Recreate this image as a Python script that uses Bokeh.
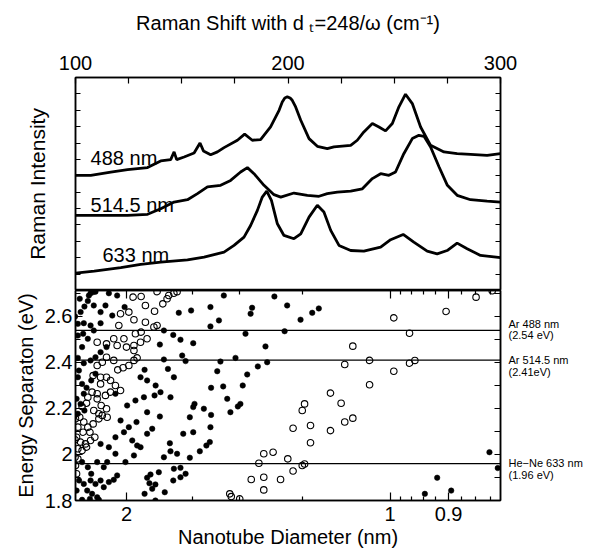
from bokeh.plotting import figure
from bokeh.layouts import column
from bokeh.models import (FixedTicker, LinearAxis, Range1d, Label, Span,
                          CustomJSTickFormatter)
from bokeh.embed import file_html
from bokeh.resources import INLINE

FONT = "Liberation Sans"

# ---------------- Raman spectra (Raman shift in cm^-1, offset intensity) ----
shift_488 = [100.0, 107.2, 116.6, 124.5, 133.9, 140.1, 144.8, 146.4, 147.6, 151.1,
             155.8, 158.6, 160.2, 163.6, 166.8, 169.9, 176.2, 179.6, 183.2, 187.1,
             191.8, 195.8, 197.3, 198.5, 199.7, 201.0, 202.0, 203.6, 206.0, 209.9,
             213.8, 218.5, 221.6, 229.5, 232.6, 235.7, 239.7, 242.8, 245.9, 249.1,
             252.2, 255.3, 258.5, 262.4, 267.1, 273.4, 279.6, 285.9, 293.7, 300.0]
int_488 = [7.03, 7.03, 7.23, 7.38, 7.50, 7.91, 7.99, 8.46, 7.99, 8.15,
           8.39, 9.00, 8.52, 8.29, 8.46, 8.72, 9.17, 9.54, 9.17, 9.21,
           9.98, 11.00, 11.51, 11.75, 11.82, 11.75, 11.61, 11.20, 10.39, 9.27,
           8.80, 8.66, 8.76, 8.86, 9.17, 9.68, 10.19, 9.98, 9.74, 10.19,
           11.21, 11.98, 11.41, 9.98, 8.86, 8.46, 8.35, 8.31, 8.25, 8.35]

shift_514 = [100.0, 108.8, 124.5, 133.9, 140.1, 146.4, 152.7, 157.4, 162.1, 168.3,
             173.0, 177.7, 180.9, 184.0, 188.7, 193.4, 196.6, 202.8, 209.1, 214.6,
             218.5, 223.2, 229.5, 235.0, 239.7, 243.6, 247.5, 250.6, 254.5, 258.5,
             261.6, 264.0, 267.1, 271.1, 275.0, 279.6, 285.9, 293.7, 300.0]
int_514 = [4.58, 4.58, 4.58, 4.65, 4.99, 5.40, 5.54, 5.91, 6.32, 6.42,
           6.72, 7.23, 7.50, 7.13, 6.42, 5.85, 5.70, 5.95, 5.81, 5.75,
           5.91, 6.01, 6.07, 6.21, 6.83, 7.13, 7.03, 7.23, 8.35, 9.27,
           9.47, 9.41, 8.76, 7.54, 6.42, 5.81, 5.54, 5.46, 5.40]

shift_633 = [100.0, 108.8, 121.3, 130.7, 140.1, 152.7, 160.5, 169.9, 174.6, 179.3,
             182.4, 185.6, 187.9, 190.0, 192.2, 195.0, 198.1, 202.8, 206.0, 209.9,
             213.8, 216.9, 220.1, 224.0, 229.5, 235.7, 243.6, 248.3, 254.2, 259.2,
             265.5, 270.2, 274.9, 279.6, 284.3, 290.6, 300.0]
int_633 = [1.06, 1.18, 1.39, 1.59, 1.73, 1.87, 2.04, 2.34, 2.75, 3.26,
           3.97, 4.89, 5.70, 6.07, 5.50, 4.07, 3.36, 3.16, 3.46, 4.48,
           5.20, 4.79, 3.67, 2.75, 2.44, 2.40, 2.65, 3.10, 3.42, 2.95,
           2.40, 2.24, 2.44, 2.89, 2.55, 2.14, 2.00]

spectrum_names = ["488 nm", "514.5 nm", "633 nm"]

# ---------------- Kataura plot (x as Raman-shift equivalent 248/d) ----------
semi_shift = [169.8, 193.6, 199.6, 183.1, 182.4, 163.5, 167.5, 148.6, 154.4, 163.5,
              180.0, 189.4, 198.4, 141.6, 146.0, 155.4, 149.4, 139.7, 141.6, 150.2,
              151.8, 168.2, 175.3, 180.8, 185.8, 190.2, 166.7, 163.8, 169.5, 178.7,
              171.4, 176.4, 177.6, 172.9, 163.8, 160.4, 155.4, 156.0, 153.8, 150.7,
              155.4, 163.5, 163.2, 161.6, 158.5, 153.8, 141.6, 144.7, 147.8, 144.4,
              146.3, 149.4, 151.8, 149.4, 146.0, 137.6, 134.8, 133.7, 135.3, 132.5,
              137.6, 142.0, 139.2, 136.1, 205.9, 211.4, 214.5, 294.8, 298.7, 270.2,
              264.4, 276.8,
              106.3, 107.1, 108.3, 109.4, 115.7, 119.6, 99.8, 102.4, 104.2, 105.8,
              108.6, 111.8, 114.1, 117.3, 123.1, 101.1, 103.9, 107.1, 111.8, 101.1,
              103.6, 105.8, 108.6, 101.1, 103.9, 107.1, 109.4, 111.8, 114.6, 101.1,
              103.1, 105.2, 107.4, 109.4, 100.5, 102.4, 104.2, 101.1, 111.8, 115.7,
              118.8, 122.8, 126.7, 129.0, 133.7, 136.1, 130.6, 133.7, 137.7, 132.5,
              143.5, 146.3, 118.8, 124.3, 128.2, 132.2, 137.2, 140.0, 144.7, 121.2,
              125.1, 128.7, 133.7, 139.7, 114.9, 118.8, 123.5, 127.5, 130.6, 110.2,
              113.3, 103.1, 105.8, 107.4, 103.9, 107.1, 105.5, 107.8, 110.2, 113.3,
              115.7, 118.0, 119.6, 111.8, 109.4, 103.1, 106.8, 111.0, 102.0, 103.1,
              101.6, 103.9, 101.7, 100.5]
semi_energy = [2.691, 2.687, 2.648, 2.638, 2.612, 2.641, 2.583, 2.616, 2.626, 2.557,
               2.525, 2.470, 2.536, 2.539, 2.520, 2.484, 2.499, 2.478, 2.413, 2.430,
               2.406, 2.404, 2.420, 2.348, 2.383, 2.401, 2.362, 2.290, 2.296, 2.300,
               2.242, 2.209, 2.220, 2.184, 2.172, 2.199, 2.206, 2.220, 2.162, 2.090,
               2.097, 2.119, 2.054, 2.039, 2.014, 1.986, 1.988, 2.014, 2.003, 2.049,
               1.938, 1.942, 1.916, 1.901, 1.887, 1.870, 1.875, 1.899, 1.913, 1.829,
               1.800, 1.836, 1.923, 1.851, 2.586, 2.616, 2.635, 2.010, 1.941, 1.899,
               1.829, 1.843,
               2.691, 2.701, 2.706, 2.708, 2.701, 2.691, 2.600, 2.619, 2.643, 2.667,
               2.648, 2.619, 2.648, 2.604, 2.641, 2.568, 2.571, 2.561, 2.571, 2.517,
               2.525, 2.503, 2.539, 2.420, 2.397, 2.409, 2.423, 2.445, 2.467, 2.336,
               2.307, 2.290, 2.322, 2.351, 2.242, 2.220, 2.191, 2.177, 2.046, 2.032,
               2.075, 2.097, 2.061, 2.039, 2.090, 2.112, 2.336, 2.322, 2.300, 2.368,
               2.372, 2.336, 2.264, 2.213, 2.235, 2.249, 2.257, 2.271, 2.249, 2.148,
               2.119, 2.141, 2.184, 2.165, 1.967, 2.003, 1.967, 1.996, 2.032, 1.967,
               1.945, 1.967, 1.945, 1.916, 1.872, 1.887, 1.843, 1.829, 1.814, 1.858,
               1.880, 1.890, 1.909, 1.887, 1.872, 1.803, 1.807, 1.803, 2.677, 2.467,
               2.365, 2.264, 1.887, 1.843]

metal_shift = [249.8, 274.4, 288.5, 296.1, 257.2, 230.5, 226.7, 238.4, 257.2, 259.7,
               249.8, 238.4, 220.0, 225.0, 207.8, 206.7, 226.7, 230.5, 202.4, 210.6,
               220.0, 210.6, 202.4, 206.7, 207.8, 172.6, 173.3, 177.3, 182.7, 188.6,
               188.6, 196.5, 186.3, 188.6, 193.0, 199.9,
               127.1, 130.9, 138.4, 143.9, 146.3, 147.8, 121.2, 125.1, 132.9, 137.2,
               141.1, 143.1, 120.4, 127.5, 132.9, 136.9, 138.4, 128.2, 130.9, 110.2,
               114.6, 118.0, 119.6, 122.8, 124.0, 127.5, 127.5, 130.6, 133.7, 110.2,
               112.6, 114.6, 118.0, 119.9, 122.4, 125.1, 127.5, 129.0, 108.3, 111.8,
               114.6, 116.5, 118.8, 121.2, 111.8, 110.2, 114.1, 116.5, 105.8, 107.8,
               110.2, 112.1, 114.6, 103.1, 105.2, 108.6, 111.0, 100.0, 102.0, 103.9,
               105.8, 108.3, 111.0, 112.6, 114.9, 101.1, 103.6, 106.8, 99.8, 100.5,
               102.4, 104.7, 107.1, 109.1, 101.1, 103.1, 105.2, 99.8, 101.1, 100.0,
               100.5]
metal_energy = [2.594, 2.622, 2.684, 2.712, 2.527, 2.471, 2.391, 2.409, 2.397, 2.409,
                2.362, 2.303, 2.267, 2.223, 2.220, 2.191, 2.141, 2.158, 2.114, 2.126,
                2.104, 2.051, 1.928, 1.952, 1.959, 1.829, 1.817, 1.807, 1.891, 1.901,
                1.846, 1.891, 1.962, 2.003, 2.010, 1.981,
                2.684, 2.687, 2.708, 2.691, 2.701, 2.708, 2.612, 2.619, 2.648, 2.623,
                2.655, 2.677, 2.561, 2.586, 2.575, 2.554, 2.561, 2.525, 2.532, 2.488,
                2.481, 2.503, 2.474, 2.503, 2.467, 2.474, 2.452, 2.488, 2.503, 2.387,
                2.401, 2.423, 2.409, 2.368, 2.377, 2.387, 2.409, 2.420, 2.343, 2.336,
                2.336, 2.322, 2.300, 2.278, 2.307, 2.264, 2.257, 2.271, 2.249, 2.271,
                2.242, 2.213, 2.199, 2.209, 2.223, 2.191, 2.177, 2.155, 2.162, 2.141,
                2.119, 2.133, 2.155, 2.170, 2.162, 2.119, 2.097, 2.097, 2.064, 2.075,
                2.054, 2.046, 2.061, 2.075, 2.025, 2.017, 2.032, 1.988, 1.981, 1.952,
                1.916]

laser_energy = [2.54, 2.41, 1.96]
# right-hand annotation lines and the energy at which each line is centred
laser_text = ["Ar 488 nm", "(2.54 eV)", "Ar 514.5 nm", " (2.41eV)",
              "He\u2212Ne 633 nm", "(1.96 eV)"]
laser_text_energy = [2.568, 2.519, 2.411, 2.360, 1.962, 1.913]

raman_major = [100, 200, 300]
raman_minor = [125, 150, 175, 225, 250, 275]
diam_major = [2, 1, 0.9]
diam_minor = [1.6, 1.4, 1.2, 0.98, 0.96, 0.94, 0.92, 0.88, 0.86, 0.84]
energy_major = [1.8, 2.0, 2.2, 2.4, 2.6]
energy_minor = [1.9, 2.1, 2.3, 2.5, 2.7]

TITLE = "Raman Shift with d \u209c=248/\u03c9 (cm\u207b\u00b9)"

W = 605


def style_axis(ax, font_size="20px"):
    ax.axis_line_color = "black"
    ax.axis_line_width = 1.5
    ax.major_tick_line_color = "black"
    ax.minor_tick_line_color = "black"
    ax.major_tick_line_width = 1.2
    ax.minor_tick_line_width = 1.2
    ax.major_tick_out = 0
    ax.minor_tick_out = 0
    ax.major_label_text_font = FONT
    ax.major_label_text_font_size = font_size
    ax.major_label_text_color = "black"
    ax.axis_label_text_font = FONT
    ax.axis_label_text_font_style = "normal"
    ax.axis_label_text_color = "black"


def hide_labels(ax):
    ax.major_label_text_font_size = "0px"
    ax.major_label_standoff = 0


def frame_style(p):
    p.xgrid.visible = False
    p.ygrid.visible = False
    p.outline_line_color = "black"
    p.outline_line_width = 1.5
    p.background_fill_color = "white"
    p.border_fill_color = "white"


# ---------------- top panel ----------------
p1 = figure(width=W, height=290, x_range=Range1d(100, 300), y_range=Range1d(0, 13),
            output_backend="svg", toolbar_location=None, x_axis_location="above",
            min_border_left=75, min_border_right=105, min_border_top=77,
            min_border_bottom=0)
frame_style(p1)

ax = p1.xaxis[0]
ax.ticker = FixedTicker(ticks=raman_major, minor_ticks=raman_minor)
style_axis(ax)
ax.major_tick_in = 6
ax.minor_tick_in = 6
ax.major_label_standoff = 8
ax.axis_label = TITLE
ax.axis_label_text_font_size = "20px"
ax.axis_label_standoff = 19

ay = p1.yaxis[0]
ay.ticker = FixedTicker(ticks=list(range(0, 14)))
style_axis(ay)
hide_labels(ay)
ay.major_tick_in = 5
ay.axis_label = "Raman Intensity"
ay.axis_label_text_font_size = "21px"
ay.axis_label_standoff = 27

ayr = LinearAxis(ticker=FixedTicker(ticks=list(range(0, 14))))
style_axis(ayr)
hide_labels(ayr)
ayr.major_tick_in = 5
p1.add_layout(ayr, "right")

for xs, ys in [(shift_488, int_488), (shift_514, int_514), (shift_633, int_633)]:
    p1.line(xs, ys, line_color="black", line_width=2.8)

label_pos = [(107.1, 8.07), (107.1, 5.2), (112.7, 2.14)]
for name, (lx, ly) in zip(spectrum_names, label_pos):
    p1.add_layout(Label(x=lx, y=ly, text=name, text_font=FONT, text_font_size="20px",
                        text_baseline="alphabetic", text_color="black"))

# ---------------- bottom panel ----------------
p2 = figure(width=W, height=264, x_range=Range1d(100, 300), y_range=Range1d(1.8, 2.713),
            output_backend="svg", toolbar_location=None,
            min_border_left=75, min_border_right=105, min_border_top=0,
            min_border_bottom=54)
frame_style(p2)

diam_fmt = CustomJSTickFormatter(code="return String(+(248 / tick).toFixed(2));")

bx = p2.xaxis[0]
bx.ticker = FixedTicker(ticks=[248 / d for d in diam_major],
                        minor_ticks=[248 / d for d in diam_minor])
bx.formatter = diam_fmt
style_axis(bx)
bx.major_tick_in = 8
bx.minor_tick_in = 4
bx.major_label_standoff = 6
bx.axis_label = "Nanotube Diameter (nm)"
bx.axis_label_text_font_size = "20px"
bx.axis_label_standoff = 2

bxt = LinearAxis(ticker=FixedTicker(ticks=[248 / d for d in diam_major],
                                    minor_ticks=[248 / d for d in diam_minor]))
style_axis(bxt)
hide_labels(bxt)
bxt.major_tick_in = 8
bxt.minor_tick_in = 4
p2.add_layout(bxt, "above")

e_fmt = CustomJSTickFormatter(code="return String(Math.round(tick * 10) / 10);")
by = p2.yaxis[0]
by.ticker = FixedTicker(ticks=energy_major, minor_ticks=energy_minor)
by.formatter = e_fmt
style_axis(by)
by.major_tick_in = 7
by.minor_tick_in = 5
by.major_label_standoff = 3
by.axis_label = "Energy Separaton (eV)"
by.axis_label_text_font_size = "20px"
by.axis_label_standoff = 5

# right axis: minor ticks every 0.1 eV, laser annotations as tick labels
laser_fmt = CustomJSTickFormatter(
    args=dict(vals=laser_text_energy, labels=laser_text),
    code="""
for (let i = 0; i < vals.length; i++) {
  if (Math.abs(vals[i] - tick) < 1e-6) { return labels[i]; }
}
return "";
""")
byr = LinearAxis(ticker=FixedTicker(ticks=laser_text_energy,
                                    minor_ticks=energy_major + energy_minor))
byr.formatter = laser_fmt
style_axis(byr, font_size="11px")
byr.major_tick_line_color = None
byr.major_tick_in = 0
byr.minor_tick_in = 6
byr.major_label_standoff = 8
p2.add_layout(byr, "right")

for e in laser_energy:
    p2.add_layout(Span(location=e, dimension="width", line_color="black", line_width=1.3))

p2.scatter(semi_shift, semi_energy, marker="circle", size=5.5, fill_color="black",
           line_color="black", line_width=0.5)
p2.scatter(metal_shift, metal_energy, marker="circle", size=6.5, fill_color=None,
           line_color="black", line_width=1.1)

layout = column(p1, p2, spacing=0)
open("out.html", "w").write(file_html(layout, INLINE))
